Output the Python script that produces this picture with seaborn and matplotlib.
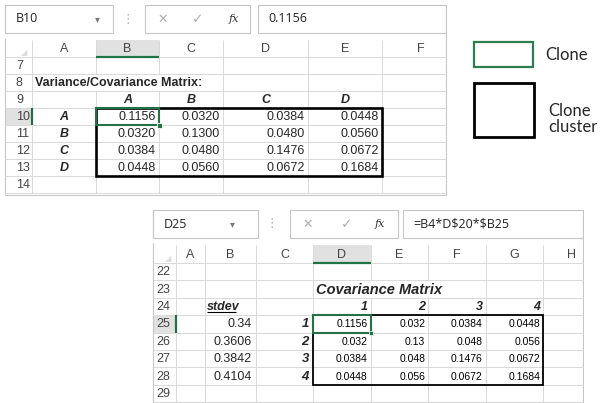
import matplotlib
matplotlib.use("Agg")
import matplotlib.pyplot as plt
from matplotlib.patches import Rectangle
from matplotlib.colors import ListedColormap
import pandas as pd
import seaborn as sns

# values
asset_names = ["A", "B", "C", "D"]
asset_nums = ["1", "2", "3", "4"]
cov = [[0.1156, 0.0320, 0.0384, 0.0448],
       [0.0320, 0.1300, 0.0480, 0.0560],
       [0.0384, 0.0480, 0.1476, 0.0672],
       [0.0448, 0.0560, 0.0672, 0.1684]]
stdev = [0.34, 0.3606, 0.3842, 0.4104]

top_cols = ["A", "B", "C", "D", "E", "F"]
top_rows = [7, 8, 9, 10, 11, 12, 13, 14]
bot_cols = ["A", "B", "C", "D", "E", "F", "G", "H"]
bot_rows = [22, 23, 24, 25, 26, 27, 28, 29]

sns.set_style("white")
plt.rcParams["font.family"] = ["Liberation Sans", "DejaVu Sans"]

GRID = "#d9d9d9"
HDR = "#444444"
GREEN = "#217346"

fig = plt.figure(figsize=(6.03, 4.03), dpi=100)
ax = fig.add_axes([0, 0, 1, 1])
ax.set_xlim(0, 603)
ax.set_ylim(403, 0)
ax.axis("off")


def line(x0, y0, x1, y1, c=GRID, lw=0.7, z=1):
    ax.plot([x0, x1], [y0, y1], color=c, lw=lw, zorder=z, solid_capstyle="butt")


def draw_sheet(frame, namebox, name, formula, arrow_x, dots_x, btn, formula_box,
               hdr, edges, letters, row_top, row_h, rows, sel_col, sel_row, hide, num_dx):
    x0, y0, x1, y1 = frame
    # formula bar
    nb0, nb1 = namebox
    fy0 = y0
    fy1 = y0 + (hdr[0] - y0) * 0.8
    ym = (fy0 + fy1) / 2
    ax.add_patch(Rectangle((nb0, fy0), nb1 - nb0, fy1 - fy0, fill=False, ec="#c6c6c6", lw=0.8))
    ax.text(nb0 + 11, ym, name, fontsize=9, va="center", ha="left", color="#222222",
            family=["Open Sans", "DejaVu Sans"])
    ax.text(arrow_x, ym, "\u25be", fontsize=7, va="center", ha="center", color="#777777",
            family="DejaVu Sans")
    ax.text(dots_x, ym, "\u22ee", fontsize=9, va="center", ha="center", color="#aaaaaa",
            family="DejaVu Sans")
    b0, b1, bx, bc, bf = btn
    ax.add_patch(Rectangle((b0, fy0), b1 - b0, fy1 - fy0, fill=False, ec="#c6c6c6", lw=0.8))
    ax.text(bx, ym, "\u2715", fontsize=9, va="center", ha="center", color="#b0b0b0",
            family="DejaVu Sans")
    ax.text(bc, ym, "\u2713", fontsize=10, va="center", ha="center", color="#b0b0b0",
            family="DejaVu Sans")
    ax.text(bf, ym, "fx", fontsize=8, va="center", ha="center", color="#333333",
            family="DejaVu Serif", style="italic")
    f0, f1 = formula_box
    ax.add_patch(Rectangle((f0, fy0), f1 - f0, fy1 - fy0, fill=False, ec="#c6c6c6", lw=0.8))
    ax.text(f0 + 10, ym, formula, fontsize=9, va="center", ha="left", color="#222222",
            family=["Open Sans", "DejaVu Sans"], parse_math=False)

    # grid frame
    h0, h1 = hdr
    line(x0, hdr[0] - 2, x0, y1, c="#c6c6c6", lw=0.8)
    line(x1, y0, x1, y1, c="#c6c6c6", lw=0.8)
    line(x0, y1, x1, y1, c="#c6c6c6", lw=0.8)
    line(x0, y0, x0, fy1, c="#c6c6c6", lw=0.8)

    # column headers
    ci = letters.index(sel_col) + 1
    ax.add_patch(Rectangle((edges[ci], h0), edges[ci + 1] - edges[ci], h1 - h0,
                           fc="#e1e1e1", ec="none", zorder=0))
    line(edges[ci], h1, edges[ci + 1], h1, c=GREEN, lw=1.6, z=3)
    ax.text(edges[1] - 8, h1 - 4, "\u25e2", fontsize=6, ha="center", va="center",
            color="#dddddd", family="DejaVu Sans")
    for i, lab in enumerate(letters):
        xc = (edges[i + 1] + edges[i + 2]) / 2
        ax.text(xc, (h0 + h1) / 2 + 0.5, lab, fontsize=9, ha="center", va="center", color=HDR)
    line(edges[0], h1, x1, h1)

    # rows
    for r, rn in enumerate(rows):
        ya = row_top + r * row_h
        yb = ya + row_h
        if rn == sel_row:
            ax.add_patch(Rectangle((edges[0], ya), edges[1] - edges[0], row_h,
                                   fc="#e1e1e1", ec="none", zorder=0))
            line(edges[1], ya, edges[1], yb, c=GREEN, lw=1.6, z=3)
        ax.text(edges[0] + num_dx, (ya + yb) / 2 + 0.5, str(rn), fontsize=9, ha="left",
                va="center", color=HDR)
        line(edges[0], yb, x1, yb)
        for e in edges[1:-1]:
            if (rn, e) in hide:
                continue
            line(e, ya, e, yb)
    for e in edges[1:-1]:
        line(e, h0, e, h1)


# ---------------- top sheet ----------------
t_edges = [5, 32, 96, 159, 223, 308, 382, 460]
t_top, t_h = 57, 17
draw_sheet((5, 5, 446, 195), (5, 113), "B10", "0.1156", 97, 128, (145, 250, 163, 198, 234),
           (258, 446), (40, 57), t_edges, top_cols, t_top, t_h, top_rows, "B", 10,
           {(8, 96), (8, 159)}, 11)
ax.add_patch(Rectangle((446.5, 0), 14, 200, fc="white", ec="none", zorder=2))

ax.text(35, t_top + 1.5 * t_h + 0.5, "Variance/Covariance Matrix:", fontsize=9,
        fontweight="bold", ha="left", va="center")
for j, nm in enumerate(asset_names):
    xc = (t_edges[j + 2] + t_edges[j + 3]) / 2
    ax.text(xc, t_top + 2.5 * t_h + 0.5, nm, fontsize=9, fontweight="bold", style="italic",
            ha="center", va="center")
for i, nm in enumerate(asset_names):
    yc = t_top + (3.5 + i) * t_h + 0.5
    ax.text((t_edges[1] + t_edges[2]) / 2, yc, nm, fontsize=9, fontweight="bold",
            style="italic", ha="center", va="center")
    for j in range(4):
        ax.text(t_edges[j + 3] - 3, yc, f"{cov[i][j]:.4f}", fontsize=9, ha="right",
                va="center")
ax.add_patch(Rectangle((t_edges[2], t_top + 3 * t_h), t_edges[6] - t_edges[2], 4 * t_h,
                       fill=False, ec="black", lw=1.9, zorder=4))
ax.add_patch(Rectangle((t_edges[2], t_top + 3 * t_h), t_edges[3] - t_edges[2], t_h,
                       fill=False, ec=GREEN, lw=1.5, zorder=5))
ax.add_patch(Rectangle((t_edges[3] - 2.5, t_top + 4 * t_h - 2.5), 5, 5, fc=GREEN,
                       ec="white", lw=0.6, zorder=6))

# ---------------- bottom sheet ----------------
b_edges = [153, 176, 205, 256, 313, 371, 428, 486, 543, 600]
b_top, b_h = 263, 17.4
draw_sheet((153, 210, 583, 402), (153, 258), "D25", "=B4*D$20*$B25", 232, 272,
           (290, 398, 308, 347, 380), (403, 583), (245, 263), b_edges, bot_cols, b_top, b_h,
           bot_rows, "D", 25, {(23, 371), (23, 428)}, 3)
ax.add_patch(Rectangle((583.5, 200), 18, 210, fc="white", ec="none", zorder=2))

ax.text(316, b_top + 1.5 * b_h + 0.5, "Covariance Matrix", fontsize=10.5, fontweight="bold",
        style="italic", ha="left", va="center")
ax.text(207, b_top + 2.5 * b_h + 0.5, "stdev", fontsize=9, fontweight="bold",
        style="italic", ha="left", va="center")
line(207, b_top + 3 * b_h - 3.5, 236, b_top + 3 * b_h - 3.5, c="black", lw=0.8, z=3)
for j, nm in enumerate(asset_nums):
    ax.text(b_edges[j + 5] - 3, b_top + 2.5 * b_h + 0.5, nm, fontsize=9, fontweight="bold",
            style="italic", ha="right", va="center")
for i, nm in enumerate(asset_nums):
    yc = b_top + (3.5 + i) * b_h + 0.5
    ax.text(b_edges[3] - 4, yc, f"{stdev[i]:g}", fontsize=9, ha="right", va="center")
    ax.text(b_edges[4] - 4, yc, nm, fontsize=9.5, fontweight="bold", style="italic",
            ha="right", va="center")

# covariance block drawn as a plain white heatmap with the numbers as annotations
cov_df = pd.DataFrame(cov, index=asset_nums, columns=asset_nums)
labels = cov_df.map(lambda v: f"{v:g}")
hx0, hx1 = b_edges[4], b_edges[8]
hy0, hy1 = b_top + 3 * b_h, b_top + 7 * b_h
hax = fig.add_axes([hx0 / 603, 1 - hy1 / 403, (hx1 - hx0) / 603, (hy1 - hy0) / 403])
sns.heatmap(cov_df, ax=hax, cmap=ListedColormap(["white"]), cbar=False, annot=labels,
            fmt="", linewidths=0.7, linecolor=GRID, xticklabels=False, yticklabels=False,
            annot_kws={"fontsize": 7.5, "color": "black"})
for t in hax.texts:
    x, y = t.get_position()
    t.set_position((x + 0.45, y + 0.03))
    t.set_ha("right")
hax.add_patch(Rectangle((0, 0), 4, 4, fill=False, ec="black", lw=1.3, clip_on=False, zorder=4))
hax.add_patch(Rectangle((0, 0), 1, 1, fill=False, ec=GREEN, lw=1.5, clip_on=False, zorder=5))
hax.plot([1], [1], marker="s", ms=3.5, color=GREEN, mec="white", mew=0.5, clip_on=False,
         zorder=6)

# ---------------- legend boxes ----------------
ax.add_patch(Rectangle((474, 42), 59, 25, fill=False, ec="#2e7d4f", lw=1.6, zorder=3))
ax.text(545, 55, "Clone", fontsize=12, ha="left", va="center",
        family=["Lato", "DejaVu Sans"])
ax.add_patch(Rectangle((474, 83), 60, 54, fill=False, ec="black", lw=2.0, zorder=3))
ax.text(548, 119, "Clone\ncluster", fontsize=12, ha="left", va="center", linespacing=1.05,
        family=["Lato", "DejaVu Sans"])

fig.savefig("out.png", dpi=100)
